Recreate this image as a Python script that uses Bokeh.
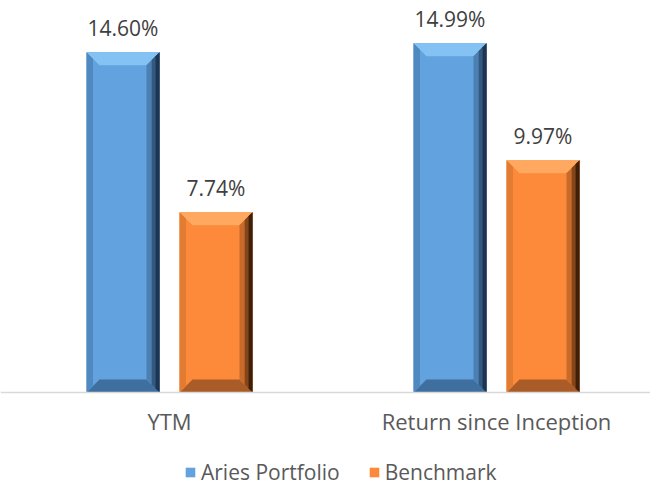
from bokeh.plotting import figure
from bokeh.models import Range1d, Legend, LegendItem, FixedTicker, ColumnDataSource
from bokeh.core.properties import value
from bokeh.embed import file_html
from bokeh.resources import INLINE

# ---- data ----
categories = ["YTM", "Return since Inception"]
series_names = ["Aries Portfolio", "Benchmark"]
aries = [14.60, 14.99]
benchmark = [7.74, 9.97]

# ---- styles ----
FONT = "Open Sans"
blue = {"main": "#62A2DF", "top": "#85C2F4", "bottom": "#3F6F9E", "left": "#5089C0",
        "right": ["#4C80B3", "#34597E", "#1E3550"]}
orange = {"main": "#FC8A3A", "top": "#FFA860", "bottom": "#A95C27", "left": "#E27C33",
          "right": ["#C86A2A", "#84451A", "#3E200A"]}

FW, FH = 650, 486
BASE_PX = 392  # pixel row of the value axis baseline
px_per_cat, first_center_px, px_per_unit_y = 327.0, 169.0, 23.3
x_start = -first_center_px / px_per_cat
x_end = x_start + FW / px_per_cat
y_start = -(FH - BASE_PX) / px_per_unit_y
y_end = BASE_PX / px_per_unit_y
dx = (x_end - x_start) / FW
dy = (y_end - y_start) / FH

p = figure(frame_width=FW, frame_height=FH, x_range=Range1d(x_start, x_end),
           y_range=Range1d(y_start, y_end), output_backend="svg", toolbar_location=None,
           min_border_left=0, min_border_right=0, min_border_top=0, min_border_bottom=0)
p.outline_line_color = None
p.grid.visible = False
p.yaxis.visible = False
p.background_fill_color = "white"
p.border_fill_color = "white"

xa = p.xaxis[0]
xa.fixed_location = 0
xa.ticker = FixedTicker(ticks=list(range(len(categories))))
xa.major_label_overrides = {i: c for i, c in enumerate(categories)}
xa.axis_line_color = "#D9D9D9"
xa.axis_line_width = 1.5
xa.major_tick_line_color = None
xa.minor_tick_line_color = None
xa.major_label_text_font = FONT
xa.major_label_text_font_size = "22px"
xa.major_label_text_color = "#595959"
xa.major_label_standoff = 7

offset = 46.5 * dx
bw = 73 * dx
bev = 13

def bevel_patches(xc, h, col):
    L, R, T = xc - bw / 2, xc + bw / 2, h
    bx, by = bev * dx, bev * dy
    xs, ys, cs = [], [], []
    xs.append([L, R, R - bx, L + bx]); ys.append([T, T, T - by, T - by]); cs.append(col["top"])
    xs.append([L, R, R - bx, L + bx]); ys.append([0, 0, by, by]); cs.append(col["bottom"])
    xs.append([L, L, L + bx * 0.5, L + bx * 0.5]); ys.append([0, T, T - by * 0.5, by * 0.5]); cs.append(col["left"])
    for f, c in zip([1.0, 0.6, 0.3], col["right"]):
        xs.append([R, R, R - bx * f, R - bx * f]); ys.append([0, T, T - by * f, by * f]); cs.append(c)
    return xs, ys, cs

renderers = []
for s_i, (vals, col, sign) in enumerate([(aries, blue, -1), (benchmark, orange, 1)]):
    xcs = [i + sign * offset for i in range(len(categories))]
    src = ColumnDataSource(dict(x=xcs, top=vals))
    r = p.vbar(x="x", top="top", width=bw, bottom=0, source=src,
               fill_color=col["main"], line_color=None)
    renderers.append(r)
    X, Y, C = [], [], []
    for xc, h in zip(xcs, vals):
        a, b, c = bevel_patches(xc, h, col)
        X += a; Y += b; C += c
    p.patches(xs=X, ys=Y, fill_color=C, line_color=None)
    p.text(x=xcs, y=vals, text=[f"{v:.2f}%" for v in vals], text_align="center",
           text_baseline="alphabetic", y_offset=-24, text_font=value(FONT),
           text_font_size="21px", text_color="#404040")

legend = Legend(items=[LegendItem(label=n, renderers=[r]) for n, r in zip(series_names, renderers)],
                orientation="horizontal", location=(184, 0),
                glyph_width=12, glyph_height=12, label_text_font=FONT,
                label_text_font_size="21px", label_text_color="#595959",
                border_line_color=None, background_fill_alpha=0,
                padding=0, margin=0, spacing=28, label_standoff=5)
p.add_layout(legend, "center")

open("out.html", "w").write(file_html(p, INLINE))
